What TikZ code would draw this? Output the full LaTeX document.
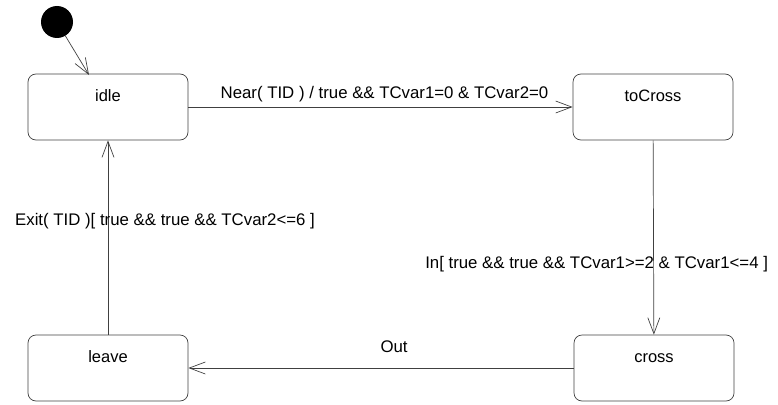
\documentclass[tikz,border=0pt]{standalone}
\usepackage{fontspec}
\setmainfont{Liberation Sans}
\usetikzlibrary{arrows.meta}

\begin{document}
\begin{tikzpicture}[
    x=1pt, y=-1pt,
    state/.style={draw=black!75, line width=0.7pt, rounded corners=8pt, minimum width=160pt, minimum height=66pt, text height=11.5pt, text depth=22pt, font=\fontsize{16.5}{19}\selectfont},
    startdot/.style={circle, fill=black, minimum size=32pt, inner sep=0pt},
    trans/.style={draw=black!75, line width=0.7pt, -{Straight Barb[length=16pt, width=12pt]}},
    guard/.style={font=\fontsize{16.8}{19}\selectfont, inner sep=1pt}
]
    \useasboundingbox (0,0) rectangle (778,404);
    \node[startdot] (init) at (57,22) {};
    \node[state] (idle) at (108,107) {idle};
    \node[state] (toCross) at (653,107) {toCross};
    \node[state] (cross) at (654,368) {cross};
    \node[state] (leave) at (108,368) {leave};
    \coordinate (idleIn) at (89,75);
    \draw[trans] (init) -- (idleIn);
    \draw[trans] (idle) -- node[guard, above=4pt, xshift=4pt] (nearLbl) {Near( TID ) / true \&\& TCvar1=0 \& TCvar2=0} (toCross);
    \draw[trans] (toCross) -- node[guard, pos=0.636, xshift=-57pt] (inLbl) {In[ true \&\& true \&\& TCvar1>=2 \& TCvar1<=4 ]} (cross);
    \draw[trans] (cross) -- node[guard, pos=0.466, above=14pt] (outLbl) {Out} (leave);
    \draw[trans] (leave) -- node[guard, pos=0.585, xshift=57pt] (exitLbl) {Exit( TID )[ true \&\& true \&\& TCvar2<=6 ]} (idle);
\end{tikzpicture}
\end{document}
